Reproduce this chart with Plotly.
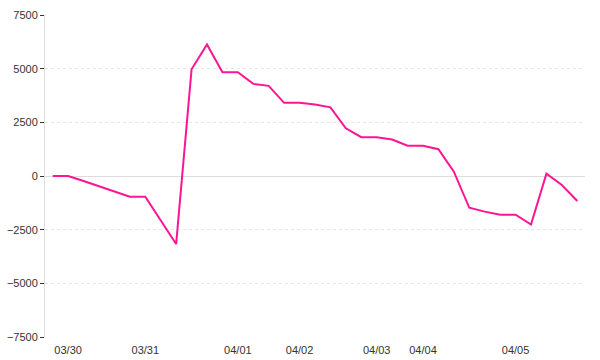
import plotly.graph_objects as go

times = [
    "03/29 20:00",
    "03/30 00:00", "03/30 04:00", "03/30 08:00", "03/30 12:00", "03/30 16:00",
    "03/31 00:00", "03/31 04:00", "03/31 08:00", "03/31 12:00", "03/31 16:00", "03/31 20:00",
    "04/01 00:00", "04/01 06:00", "04/01 12:00", "04/01 18:00",
    "04/02 00:00", "04/02 04:00", "04/02 08:00", "04/02 12:00", "04/02 16:00",
    "04/03 00:00", "04/03 08:00", "04/03 16:00",
    "04/04 00:00", "04/04 04:00", "04/04 08:00", "04/04 12:00", "04/04 16:00", "04/04 20:00",
    "04/05 00:00", "04/05 04:00", "04/05 08:00", "04/05 12:00", "04/05 16:00",
]
values = [
    0,
    0, -230, -470, -720, -970,
    -970, -2090, -3170, 4970, 6130, 4830,
    4830, 4290, 4200, 3410,
    3410, 3330, 3200, 2220, 1810,
    1800, 1700, 1410,
    1410, 1250, 200, -1480, -1660, -1800,
    -1800, -2260, 110, -420, -1165,
]
tick_labels = ["03/30", "03/31", "04/01", "04/02", "04/03", "04/04", "04/05"]
tick_positions = [next(t for t in times if t.startswith(d)) for d in tick_labels]

fig = go.Figure(go.Scatter(
    x=times, y=values, mode="lines",
    line=dict(color="#ff1493", width=2),
))

font = dict(family="Liberation Sans, Arial, sans-serif", size=11, color="#333333")
fig.update_layout(
    width=600, height=360,
    margin=dict(l=45, r=15, t=15, b=23, pad=0),
    paper_bgcolor="white", plot_bgcolor="white",
    showlegend=False, font=font,
)
fig.update_xaxes(
    type="category", tickmode="array",
    tickvals=tick_positions, ticktext=tick_labels,
    range=[-0.5, len(times) - 0.5],
    showgrid=False, showline=False, zeroline=False, ticks="outside",
    ticklen=3, tickcolor="rgba(0,0,0,0)", automargin=False,
)
fig.update_yaxes(
    range=[-7500, 7500], dtick=2500, tickformat="d",
    showgrid=True, gridcolor="#e6e6e6", griddash="dot", gridwidth=1,
    zeroline=True, zerolinecolor="#dddddd", zerolinewidth=1,
    showline=True, linecolor="#dddddd", linewidth=1,
    ticks="outside", ticklen=4, tickcolor="#333333", automargin=False,
)
fig.write_html("out.html")
